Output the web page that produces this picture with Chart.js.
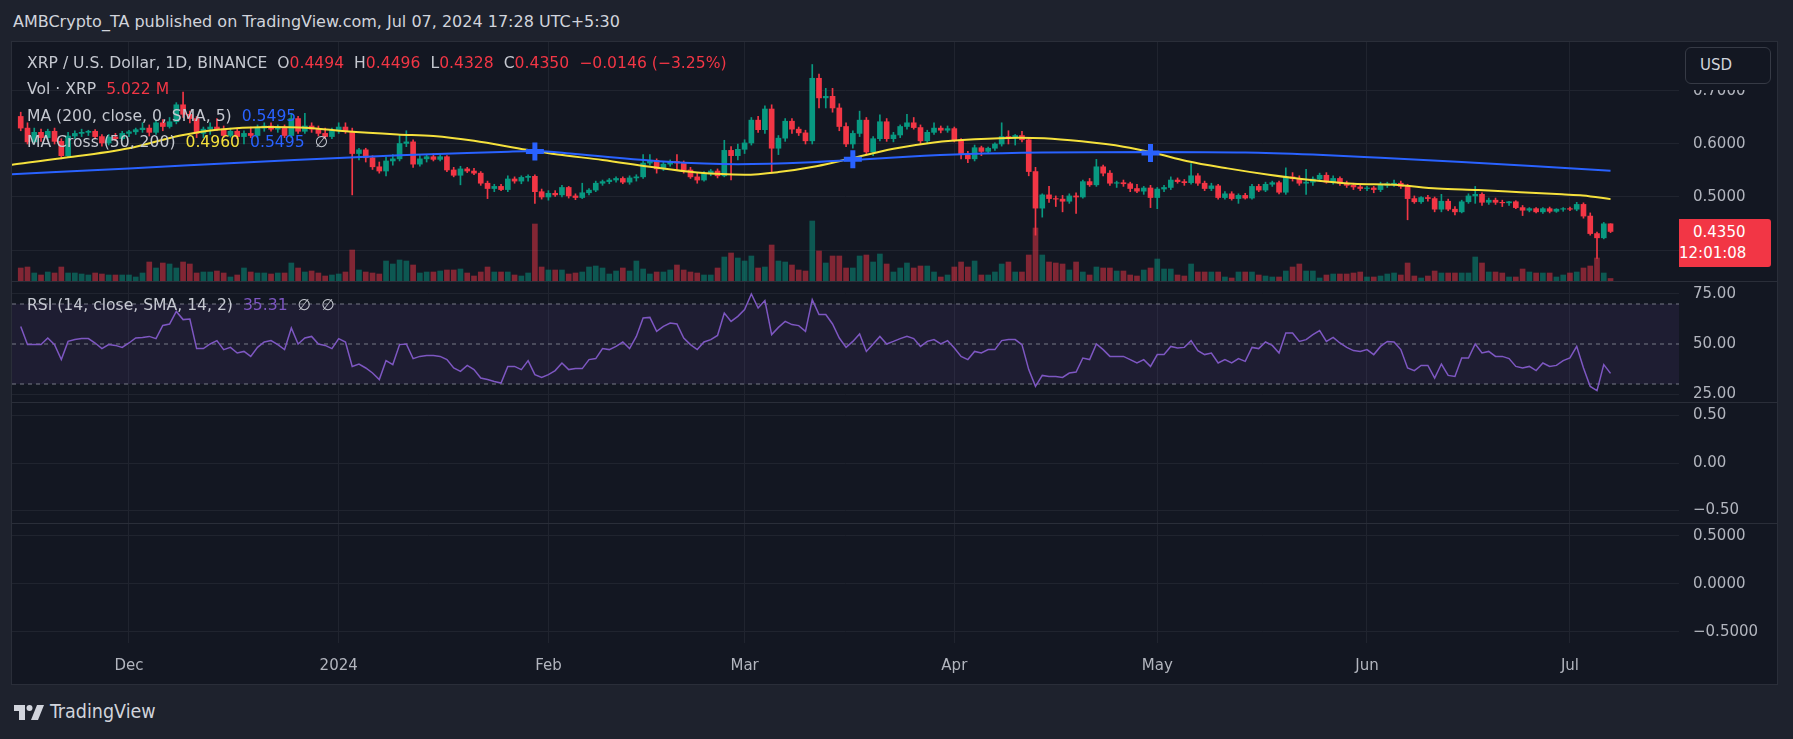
<!DOCTYPE html>
<html>
<head>
<meta charset="utf-8">
<script src="https://cdn.jsdelivr.net/npm/chart.js@4.4.1/dist/chart.umd.min.js"></script>
<style>
  html, body { margin: 0; padding: 0; width: 1793px; height: 739px; overflow: hidden; background: #1e222d; font-family: 'DejaVu Sans', sans-serif; }
  .abs { position: absolute; white-space: nowrap; }
  #panel { left: 11px; top: 41px; width: 1765px; height: 642px; background: #131722; border: 1px solid #2a2e39; }
  .sep { left: 12px; width: 1765px; height: 1px; background: #2a2e39; }
  #header { left: 13px; top: 12px; font-size: 16px; line-height: 20px; color: #d1d4dc; }
  .leg { left: 27px; font-size: 15.6px; line-height: 18px; color: #c5c8d0; }
  .leg span { margin-left: 10px; }
  .leg span.n { margin-left: 0; }
  .leg i { font-style: normal; }
  .r { color: #f23645; } .b { color: #2962ff; } .y { color: #f5e13c; } .p { color: #7e57c2; }
  #usdMask { left: 1680px; top: 43px; width: 96px; height: 47px; background: #131722; }
  #usd { left: 1685px; top: 47px; width: 84px; height: 35px; border: 1px solid #363a45; border-radius: 6px; background: #131722;
         color: #d1d4dc; font-size: 15px; line-height: 35px; text-indent: 14px; }
  #last { left: 1679px; top: 219px; width: 92px; height: 48px; background: #f23645; border-radius: 0 3px 3px 0;
          color: #ffffff; font-size: 15px; line-height: 21px; padding-top: 3px; box-sizing: border-box; text-indent: 14px; }
  #brand { left: 50px; top: 701px; font-family: 'DejaVu Sans Condensed', 'DejaVu Sans', sans-serif; font-size: 19.5px; line-height: 22px; color: #d1d4dc; }
</style>
</head>
<body>
<div class="abs" id="header">AMBCrypto_TA published on TradingView.com, Jul 07, 2024 17:28 UTC+5:30</div>
<div class="abs" id="panel"></div>

<canvas class="abs" id="pricePane" width="1765" height="239" style="left:12px;top:42px"></canvas>
<div class="abs sep" style="top:281px"></div>
<canvas class="abs" id="rsiPane" width="1765" height="120" style="left:12px;top:282px"></canvas>
<div class="abs sep" style="top:402px"></div>
<canvas class="abs" id="pane3" width="1765" height="120" style="left:12px;top:403px"></canvas>
<div class="abs sep" style="top:523px"></div>
<canvas class="abs" id="pane4" width="1765" height="160" style="left:12px;top:524px"></canvas>

<div class="abs leg" style="top:54px"><span class="n">XRP / U.S. Dollar, 1D, BINANCE</span><span>O<i class="r">0.4494</i></span><span>H<i class="r">0.4496</i></span><span>L<i class="r">0.4328</i></span><span>C<i class="r">0.4350</i></span><span class="r">−0.0146 (−3.25%)</span></div>
<div class="abs leg" style="top:80px"><span class="n">Vol · XRP</span><span class="r">5.022 M</span></div>
<div class="abs leg" style="top:107px"><span class="n">MA (200, close, 0, SMA, 5)</span><span class="b">0.5495</span></div>
<div class="abs leg" style="top:133px"><span class="n">MA Cross (50, 200)</span><span class="y">0.4960</span><span class="b">0.5495</span><span>∅</span></div>
<div class="abs leg" style="top:296px;left:27px"><span class="n">RSI (14, close, SMA, 14, 2)</span><span class="p">35.31</span><span>∅</span><span>∅</span></div>

<div class="abs" id="usdMask"></div>
<div class="abs" id="usd">USD</div>
<div class="abs" id="last">0.4350<br>12:01:08</div>

<svg class="abs" style="left:14px;top:705px" width="32" height="15" viewBox="0 0 32 15">
  <path d="M0 0 H11 V15 H5 V6 H0 Z" fill="#d1d4dc"/>
  <circle cx="15.5" cy="3" r="3" fill="#d1d4dc"/>
  <path d="M23 0 H30 L24 15 H17 Z" fill="#d1d4dc"/>
</svg>
<div class="abs" id="brand">TradingView</div>

<script>
// days are counted from 1 Dec 2023; first candle is 15 Nov 2023
const firstDay = -16;
const monthTicks = [0, 31, 62, 91, 122, 152, 183, 213];
const monthLabels = ['Dec', '2024', 'Feb', 'Mar', 'Apr', 'May', 'Jun', 'Jul'];
const priceTicks = [0.4, 0.5, 0.6, 0.7];
const rsiTicks = [25, 50, 75];
const rsiLevels = [70, 50, 30];
const paneTicks = [-0.5, 0, 0.5];

const open = [
  .652, .630, .604, .622, .612, .624, .605, .578, .615, .620,
  .622, .624, .614, .602, .613, .610, .620, .623, .627, .630,
  .622, .640, .633, .642, .674, .656, .648, .620, .628, .632,
  .628, .616, .624, .614, .620, .616, .630, .634, .628, .632,
  .616, .648, .624, .634, .628, .620, .614, .626, .632, .624,
  .582, .589, .574, .557, .549, .568, .572, .601, .604, .562,
  .572, .576, .571, .576, .551, .541, .553, .549, .545, .526,
  .516, .520, .514, .534, .530, .537, .539, .510, .500, .507,
  .504, .518, .502, .499, .508, .513, .526, .529, .532, .535,
  .528, .536, .538, .564, .569, .553, .562, .567, .564, .551,
  .538, .532, .545, .549, .540, .588, .578, .590, .602, .645,
  .627, .666, .592, .611, .643, .628, .621, .606, .724, .687,
  .690, .668, .633, .600, .620, .645, .585, .610, .642, .610,
  .617, .633, .640, .631, .606, .622, .630, .626, .629, .608,
  .580, .572, .593, .586, .592, .600, .614, .612, .616, .608,
  .548, .479, .504, .497, .496, .492, .502, .500, .529, .523,
  .557, .545, .526, .527, .525, .516, .511, .517, .499, .515,
  .518, .532, .529, .527, .540, .526, .516, .521, .499, .506,
  .497, .503, .498, .520, .513, .524, .527, .509, .538, .535,
  .526, .528, .534, .541, .528, .535, .526, .522, .519, .516,
  .517, .514, .522, .525, .526, .520, .497, .491, .499, .497,
  .477, .492, .477, .472, .491, .502, .505, .490, .494, .490,
  .489, .491, .480, .475, .478, .472, .478, .473, .477, .478,
  .477, .486, .464, .431, .423, .4494
];
const high = [
  .660, .640, .630, .628, .628, .630, .610, .622, .625, .628,
  .626, .627, .618, .618, .620, .624, .626, .630, .640, .636,
  .645, .646, .650, .678, .698, .662, .652, .632, .640, .648,
  .634, .630, .628, .625, .632, .636, .640, .640, .636, .636,
  .658, .652, .658, .640, .634, .630, .630, .640, .640, .630,
  .592, .592, .578, .566, .575, .580, .617, .625, .608, .578,
  .580, .582, .580, .578, .556, .558, .556, .554, .548, .530,
  .524, .524, .540, .538, .540, .542, .542, .515, .512, .512,
  .522, .520, .506, .526, .516, .530, .532, .535, .538, .538,
  .540, .542, .580, .580, .572, .566, .570, .580, .568, .556,
  .545, .548, .552, .553, .607, .595, .600, .608, .650, .652,
  .672, .674, .616, .648, .648, .632, .626, .750, .732, .705,
  .705, .676, .640, .625, .662, .650, .614, .655, .648, .622,
  .636, .656, .650, .636, .626, .640, .634, .634, .632, .610,
  .586, .598, .596, .594, .602, .640, .625, .618, .624, .612,
  .556, .506, .520, .502, .503, .506, .508, .532, .535, .571,
  .560, .550, .530, .532, .528, .524, .520, .522, .518, .522,
  .538, .536, .533, .563, .544, .530, .526, .524, .510, .510,
  .506, .507, .524, .524, .528, .530, .530, .555, .546, .540,
  .552, .538, .545, .546, .540, .538, .530, .526, .523, .520,
  .520, .528, .528, .532, .530, .524, .502, .501, .503, .500,
  .505, .496, .482, .494, .506, .520, .508, .498, .498, .494,
  .492, .493, .484, .480, .480, .480, .481, .478, .480, .481,
  .490, .489, .470, .434, .452, .4496
];
const low = [
  .625, .600, .600, .605, .608, .600, .572, .575, .610, .614,
  .616, .610, .596, .598, .606, .607, .614, .618, .622, .615,
  .618, .625, .630, .638, .650, .640, .612, .612, .618, .625,
  .612, .613, .610, .600, .612, .612, .624, .624, .622, .612,
  .612, .620, .620, .622, .615, .610, .610, .620, .620, .504,
  .570, .566, .552, .545, .540, .560, .568, .595, .556, .558,
  .566, .568, .568, .548, .538, .523, .546, .542, .522, .497,
  .510, .512, .510, .526, .525, .530, .488, .496, .494, .501,
  .500, .498, .495, .497, .504, .510, .522, .525, .528, .525,
  .524, .530, .535, .560, .545, .550, .558, .550, .545, .535,
  .526, .530, .540, .536, .538, .532, .570, .582, .598, .622,
  .620, .545, .580, .605, .620, .616, .600, .600, .668, .668,
  .660, .625, .595, .592, .614, .580, .578, .606, .605, .604,
  .612, .628, .628, .600, .602, .618, .621, .622, .604, .572,
  .565, .568, .578, .582, .588, .596, .600, .598, .604, .540,
  .428, .462, .490, .482, .472, .488, .469, .498, .520, .520,
  .540, .522, .518, .520, .510, .508, .505, .480, .478, .510,
  .514, .526, .522, .524, .522, .512, .512, .496, .496, .494,
  .488, .496, .496, .510, .510, .520, .506, .505, .530, .522,
  .505, .522, .530, .526, .524, .522, .518, .514, .512, .512,
  .508, .510, .518, .520, .516, .457, .488, .488, .492, .472,
  .472, .474, .466, .470, .488, .488, .484, .486, .486, .482,
  .484, .478, .465, .472, .470, .469, .470, .471, .473, .474,
  .474, .460, .428, .384, .421, .4328
];
const close = [
  .630, .604, .622, .612, .624, .605, .578, .615, .620, .622,
  .624, .614, .602, .613, .610, .620, .623, .627, .630, .622,
  .640, .633, .642, .674, .656, .648, .620, .628, .632, .628,
  .616, .624, .614, .620, .616, .630, .634, .628, .632, .616,
  .648, .624, .634, .628, .620, .614, .626, .632, .624, .582,
  .589, .574, .557, .549, .568, .572, .601, .604, .562, .572,
  .576, .571, .576, .551, .541, .553, .549, .545, .526, .516,
  .520, .514, .534, .530, .537, .539, .510, .500, .507, .504,
  .518, .502, .499, .508, .513, .526, .529, .532, .535, .528,
  .536, .538, .564, .569, .553, .562, .567, .564, .551, .538,
  .532, .545, .549, .540, .588, .578, .590, .602, .645, .627,
  .666, .592, .611, .643, .628, .621, .606, .724, .687, .690,
  .668, .633, .600, .620, .645, .585, .610, .642, .610, .617,
  .633, .640, .631, .606, .622, .630, .626, .629, .608, .580,
  .572, .593, .586, .592, .600, .614, .612, .616, .608, .548,
  .479, .504, .497, .496, .492, .502, .500, .529, .523, .557,
  .545, .526, .527, .525, .516, .511, .517, .499, .515, .518,
  .532, .529, .527, .540, .526, .516, .521, .499, .506, .497,
  .503, .498, .520, .513, .524, .527, .509, .538, .535, .526,
  .528, .534, .541, .528, .535, .526, .522, .519, .516, .517,
  .514, .522, .525, .526, .520, .497, .491, .499, .497, .477,
  .492, .477, .472, .491, .502, .505, .490, .494, .490, .489,
  .491, .480, .475, .478, .472, .478, .473, .477, .478, .477,
  .486, .464, .431, .423, .4494, .4350
];
// volume in millions of XRP
const volume = [
  26, 28, 16, 12, 18, 16, 28, 16, 16, 14,
  12, 16, 14, 12, 12, 12, 12, 8, 16, 38,
  26, 36, 34, 26, 38, 34, 16, 18, 18, 20,
  16, 8, 12, 26, 18, 16, 16, 14, 16, 16,
  36, 26, 18, 20, 16, 10, 12, 14, 18, 62,
  22, 18, 16, 14, 40, 34, 42, 40, 32, 16,
  18, 18, 20, 22, 22, 24, 16, 10, 18, 28,
  18, 18, 18, 12, 10, 16, 114, 28, 22, 22,
  22, 14, 16, 18, 28, 30, 26, 14, 20, 26,
  20, 40, 24, 14, 18, 18, 22, 32, 22, 18,
  16, 12, 12, 26, 48, 56, 46, 40, 50, 26,
  28, 72, 40, 38, 32, 22, 20, 120, 60, 36,
  50, 50, 26, 26, 50, 52, 38, 54, 34, 18,
  26, 36, 26, 30, 30, 18, 8, 12, 28, 38,
  28, 40, 12, 12, 18, 34, 38, 18, 18, 52,
  106, 52, 38, 36, 34, 22, 38, 18, 12, 28,
  26, 26, 20, 20, 12, 10, 22, 26, 44, 24,
  24, 12, 10, 34, 18, 18, 18, 18, 8, 6,
  18, 18, 18, 12, 10, 8, 8, 20, 28, 34,
  20, 20, 6, 12, 14, 14, 14, 16, 18, 8,
  8, 10, 14, 16, 12, 36, 10, 6, 10, 20,
  16, 16, 16, 16, 16, 48, 36, 18, 18, 16,
  8, 8, 24, 18, 16, 16, 16, 8, 12, 16,
  18, 26, 30, 46, 16, 5.022
];
const rsi = [
  58.8, 49.7, 49.7, 49.7, 53, 49.7, 42.2, 51.3, 52.2, 52.7,
  52.7, 50.5, 47.7, 49.7, 49.3, 48.3, 50.5, 53, 53.3, 53.8,
  52.7, 59.3, 60, 66.3, 62.2, 62.5, 47.7, 47.7, 50, 51.7,
  47.2, 48.3, 45.5, 46.3, 43.8, 48.3, 51, 51.7, 49.7, 47.2,
  58, 50, 53, 53.8, 50, 49.3, 47.7, 52.7, 51, 38.8,
  40, 38, 35.5, 32.2, 41.7, 39.7, 49.7, 50, 42.7, 43.8,
  44.2, 44.2, 43.8, 42.2, 38, 36.3, 39.3, 37.2, 33, 32.2,
  31.3, 30.5, 38.8, 38.8, 37.2, 41.7, 34.7, 33.3, 34.7, 36.7,
  40.5, 37.2, 37.7, 37.7, 42.2, 42.7, 47.7, 47.2, 48.8, 51,
  47.7, 53.8, 63, 63.3, 56.3, 58.8, 60.5, 60, 53, 49.7,
  47.2, 51, 52.2, 54.3, 65.5, 61.3, 63.8, 67.2, 75, 68,
  71.7, 54.7, 58.3, 61.3, 59.7, 59.2, 56.3, 72.2, 64.7, 64.7,
  60, 53, 48.3, 51.3, 55, 46.3, 50, 53.8, 50, 51.3,
  52.7, 53.8, 52.7, 48.8, 51.3, 52.2, 50, 51.7, 48, 43.8,
  42.2, 46.3, 45.5, 47.2, 47.2, 51.7, 52.2, 52.2, 49.7, 37.2,
  28.8, 34.3, 33.8, 33.8, 33.3, 35.5, 36, 43, 42.2, 50,
  47.2, 43.8, 43.8, 43.8, 42.2, 40.5, 42.2, 38.8, 44.7, 44.7,
  48.8, 48, 48.3, 51.7, 46.7, 44.7, 45.5, 40.5, 42.2, 40.5,
  42.7, 41.3, 48.3, 47.7, 51, 49.3, 45.5, 55.5, 55.5, 51.3,
  52.2, 54.7, 56.7, 51.3, 53.3, 50.5, 48.3, 46.7, 46.3, 47.2,
  44.7, 48.8, 51.3, 51, 47.2, 38, 36.7, 39.3, 39.3, 33,
  40, 34.3, 33.8, 43, 43, 50, 45.5, 46.3, 43.8, 43.8,
  42.7, 38.8, 38, 38.8, 36.7, 40.5, 38.8, 39.3, 41.7, 43,
  48.8, 38, 28.8, 26.7, 39.7, 35.31
];
// moving averages as [day, price]
const ma50 = [
  [-17.3, .561], [-10, .573], [0, .592], [7.6, .616], [13, .627], [20.6, .632], [26.7, .630],
  [32, .624], [39.7, .618], [45, .615], [51, .606], [58.8, .589], [63.4, .580], [70, .570],
  [77, .557], [84, .546], [91, .542], [96, .547], [101.6, .558], [106.8, .573], [113, .591],
  [119, .603], [125, .609], [131.5, .612], [135.3, .611], [140.8, .605], [147, .595],
  [151.6, .583], [156.3, .568], [162.4, .554], [168.5, .542], [174.7, .532], [181, .525],
  [187, .523], [193.4, .516], [199.5, .513], [205.7, .509], [211.8, .505], [214.9, .503], [219, .496]
];
const ma200 = [
  [-17.3, .543], [0, .554], [20, .567], [40, .579], [55, .585], [60, .587], [66, .581],
  [79, .567], [90, .562], [100, .565], [107, .570], [115, .576], [124, .581], [135, .584],
  [151, .585], [165, .584], [175, .580], [185, .574], [197, .566], [208, .558], [219, .5495]
];
const crosses = [[60, .586], [107, .571], [151, .583]];

// view
const xMin = -17.29, xMax = 229.12;
const up = '#089981', down = '#f23645';
const upVol = 'rgba(8,153,129,0.5)', downVol = 'rgba(242,54,69,0.5)';
const gridColor = '#20242f';
const tickColor = '#b2b5be';
const tickFont = { family: 'DejaVu Sans', size: 15 };

Chart.defaults.animation = false;
Chart.defaults.plugins.legend.display = false;
Chart.defaults.plugins.tooltip.enabled = false;

const days = open.map((_, i) => firstDay + i);
const bodies = days.map((d, i) => ({ x: d, y: [open[i], close[i]] }));
const wicks = days.map((d, i) => ({ x: d, y: [low[i], high[i]] }));
const vols = days.map((d, i) => ({ x: d, y: volume[i] }));
const candleColors = days.map((d, i) => close[i] >= open[i] ? up : down);
const volColors = days.map((d, i) => close[i] >= open[i] ? upVol : downVol);
const pts = arr => arr.map(p => ({ x: p[0], y: p[1] }));

const xAxis = showLabels => ({
  type: 'linear', min: xMin, max: xMax, offset: false,
  grid: { color: gridColor, drawTicks: false, offset: false },
  border: { display: false },
  afterBuildTicks: s => { s.ticks = monthTicks.map(v => ({ value: v })); },
  ticks: {
    display: showLabels, autoSkip: false, maxRotation: 0, padding: 14,
    color: tickColor, font: tickFont,
    callback: (v, i) => monthLabels[i]
  },
  afterFit: s => { s.height = showLabels ? 41 : 0; s.paddingLeft = 0; s.paddingRight = 0; }
});

const yAxis = (min, max, ticks, fmt, gridFn) => ({
  position: 'right', min, max,
  grid: { color: gridFn || gridColor, drawTicks: false },
  border: { display: false },
  afterBuildTicks: s => { s.ticks = ticks.map(v => ({ value: v })); },
  ticks: { color: tickColor, font: tickFont, padding: 14, crossAlign: 'near', callback: fmt },
  afterFit: s => { s.width = 98; s.paddingTop = 0; s.paddingBottom = 0; }
});

const signed = (v, n) => (v < 0 ? '−' : '') + Math.abs(v).toFixed(n);
const base = {
  responsive: false, maintainAspectRatio: false, events: [],
  layout: { padding: 0, autoPadding: false }
};

new Chart(document.getElementById('pricePane'), {
  type: 'bar',
  data: {
    datasets: [
      { type: 'line', data: pts(crosses), showLine: false, pointStyle: 'cross', pointRadius: 9,
        pointBorderWidth: 5, pointBorderColor: '#2962ff', order: 0 },
      { type: 'line', data: pts(ma200), borderColor: '#2962ff', borderWidth: 2, pointRadius: 0,
        cubicInterpolationMode: 'monotone', order: 1 },
      { type: 'line', data: pts(ma50), borderColor: '#f5e13c', borderWidth: 2, pointRadius: 0,
        cubicInterpolationMode: 'monotone', order: 1 },
      { data: bodies, backgroundColor: candleColors, barThickness: 5, grouped: false, order: 2 },
      { data: wicks, backgroundColor: candleColors, barThickness: 1, grouped: false, order: 3 },
      { data: vols, yAxisID: 'yv', backgroundColor: volColors, barThickness: 5, grouped: false, order: 4 }
    ]
  },
  options: {
    ...base,
    scales: {
      x: xAxis(false),
      y: yAxis(0.34151, 0.79245, priceTicks, v => v.toFixed(4)),
      yv: { display: false, min: 0, max: 478 }
    }
  }
});

new Chart(document.getElementById('rsiPane'), {
  type: 'line',
  data: {
    datasets: [
      { data: days.map((d, i) => ({ x: d, y: rsi[i] })), borderColor: '#7e57c2', borderWidth: 1.5,
        pointRadius: 0, order: 0 },
      { data: [{ x: xMin, y: rsiLevels[0] }, { x: xMax, y: rsiLevels[0] }], borderColor: '#787b86',
        borderDash: [4, 4], borderWidth: 1, pointRadius: 0, order: 1 },
      { data: [{ x: xMin, y: rsiLevels[2] }, { x: xMax, y: rsiLevels[2] }], borderColor: '#787b86',
        borderDash: [4, 4], borderWidth: 1, pointRadius: 0, fill: '-1',
        backgroundColor: 'rgba(126,87,194,0.1)', order: 2 },
      { data: [{ x: xMin, y: rsiLevels[1] }, { x: xMax, y: rsiLevels[1] }], borderColor: '#787b86',
        borderDash: [4, 4], borderWidth: 1, pointRadius: 0, order: 1 }
    ]
  },
  options: {
    ...base,
    scales: {
      x: xAxis(false),
      y: yAxis(21, 81, rsiTicks, v => v.toFixed(2),
        ctx => ctx.tick && ctx.tick.value === 50 ? 'rgba(0,0,0,0)' : gridColor)
    }
  }
});

new Chart(document.getElementById('pane3'), {
  type: 'line',
  data: { datasets: [] },
  options: {
    ...base,
    scales: { x: xAxis(false), y: yAxis(-0.6316, 0.6316, paneTicks, v => signed(v, 2)) }
  }
});

new Chart(document.getElementById('pane4'), {
  type: 'line',
  data: { datasets: [] },
  options: {
    ...base,
    scales: { x: xAxis(true), y: yAxis(-0.6146, 0.625, paneTicks, v => signed(v, 4)) }
  }
});
</script>
</body>
</html>
